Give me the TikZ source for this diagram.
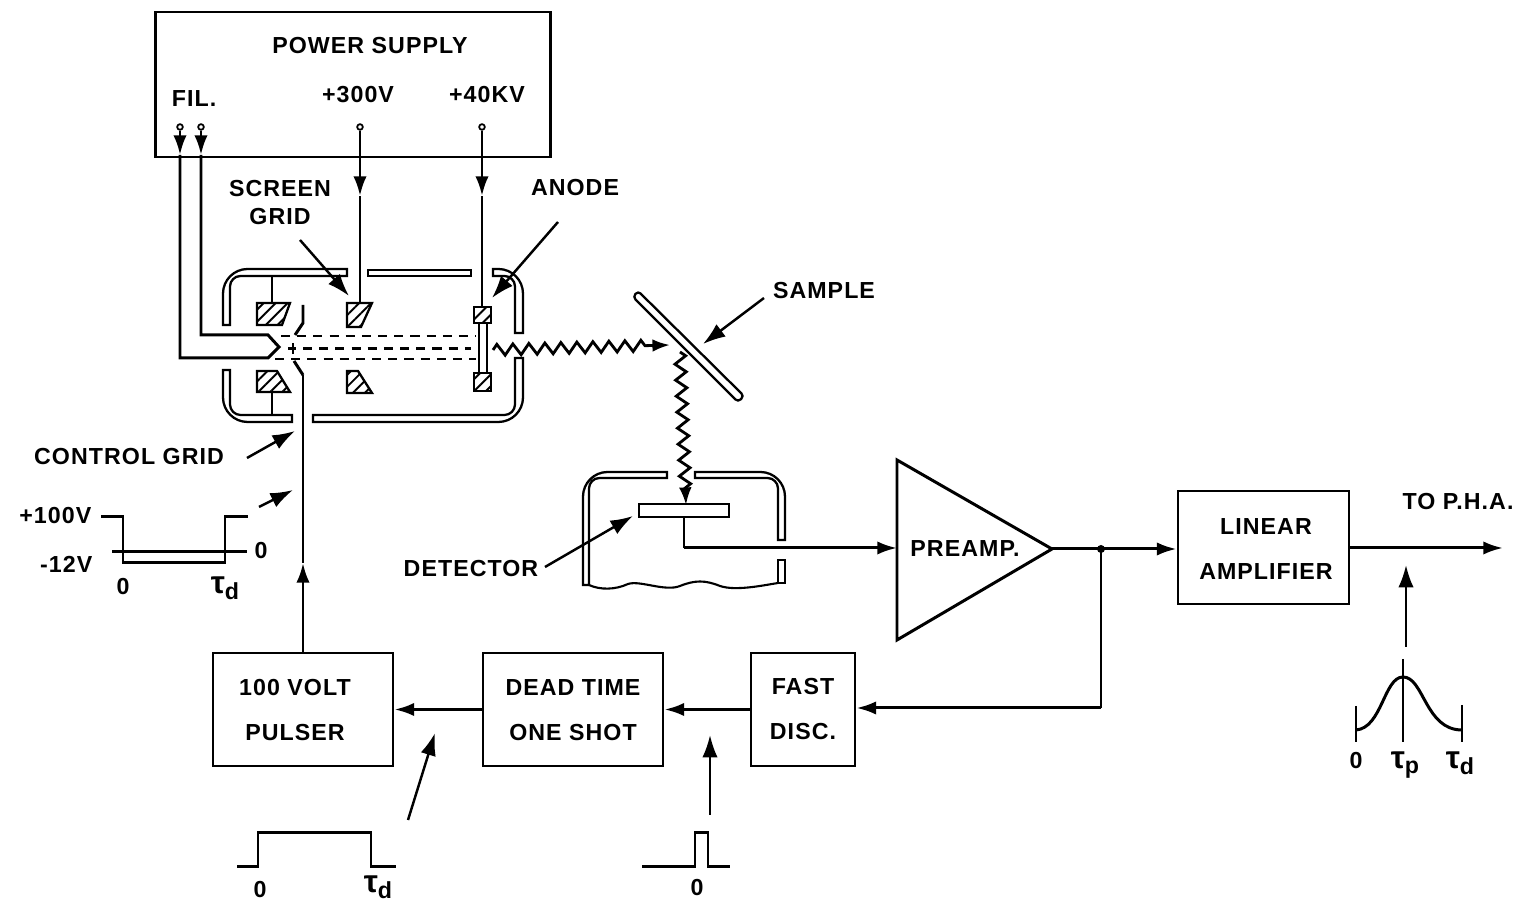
\documentclass[tikz,border=0pt]{standalone}
\usepackage{fontspec}
\setmainfont{Liberation Sans}[LetterSpace=4.5,BoldFeatures={LetterSpace=4.5}]
\usetikzlibrary{arrows.meta,patterns.meta,decorations.pathmorphing}
\newcommand{\taud}{{\fontsize{9}{9}\selectfont τ}\raisebox{-1.6pt}{d}}
\newcommand{\taup}{{\fontsize{9}{9}\selectfont τ}\raisebox{-1.6pt}{p}}
\tikzset{
  lbl/.style={font=\fontsize{6.6}{12.8}\selectfont\bfseries, align=center, inner sep=0pt},
  box/.style={draw, line width=0.8pt, lbl},
  sig/.style={line width=0.85pt, -{Latex[length=5.6pt,width=3.8pt]}},
  wire/.style={line width=0.85pt},
  thinline/.style={line width=0.6pt},
  point/.style={line width=0.7pt, -{Latex[length=6.4pt,width=4.4pt]}},
  wall/.style={line width=0.65pt, fill=white},
  grid/.style={line width=0.65pt, pattern={Lines[angle=45,distance=2.4pt,line width=0.55pt]}},
  beam/.style={line width=0.65pt, dash pattern=on 2.6pt off 2pt},
  terminal/.style={circle, draw, fill=white, line width=0.5pt, inner sep=0pt, minimum size=1.6pt},
  wavy/.style={line width=0.8pt, decorate, decoration={zigzag, segment length=0.16cm, amplitude=0.055cm}},
}
\begin{document}
\begin{tikzpicture}[x=0.01cm, y=-0.01cm]
\useasboundingbox (0,0) rectangle (1523,901);

% boxes
\node[box, minimum width=3.94cm, minimum height=1.45cm] (supply) at (353,84.5) {};
\node[box, minimum width=1.80cm, minimum height=1.13cm] (pulser) at (303,709.5) {};
\node[box, minimum width=1.80cm, minimum height=1.13cm] (oneshot) at (573,709.5) {};
\node[box, minimum width=1.04cm, minimum height=1.13cm] (disc) at (803,709.5) {};
\node[box, minimum width=1.71cm, minimum height=1.13cm] (linamp) at (1263.5,547.5) {};
\node[lbl] (pulsertxt) at (295,710) {100 VOLT\\PULSER};
\node[lbl] (oneshottxt) at (573,710) {DEAD TIME\\ONE SHOT};
\node[lbl] (disctxt) at (803,709) {FAST\\DISC.};
\node[lbl] (linamptxt) at (1266,549) {LINEAR\\AMPLIFIER};

% power supply
\node[lbl] (supplytxt) at (370,46) {POWER SUPPLY};
\node[lbl] (filtxt) at (194,99) {FIL.};
\node[lbl] (screentxt) at (358,95) {+300V};
\node[lbl] (anodetxt) at (487,95) {+40KV};
\node[terminal] (fila) at (180,127) {};
\node[terminal] (filb) at (201,127) {};
\node[terminal] (scr) at (360,127) {};
\node[terminal] (ano) at (482,127) {};

% filament
\coordinate (filam) at (180,155);
\coordinate (filbm) at (201,155);
\coordinate (scrm) at (360,196);
\coordinate (anom) at (482,196);
\coordinate (scrtop) at (360,303);
\coordinate (anotop) at (482,307);
\draw[sig] (fila) -- (filam);
\draw[sig] (filb) -- (filbm);
\draw[sig] (scr) -- (scrm);
\draw[sig] (ano) -- (anom);
\draw[wire] (scrm) -- (scrtop);
\draw[wire] (anom) -- (anotop);
\draw[wire] (filam) -- (180,358) -- (268,358) -- (279,347) -- (268,335) -- (201,335) -- (filbm);

% tube wall
\draw[wall] (223,325) [rounded corners=7] -- (223,269) [sharp corners] -- (347,269) -- (347,276) [rounded corners=3] -- (230,276) [sharp corners] -- (230,325) -- cycle;
\draw[wall] (368,270) rectangle (471,276);
\draw[wall] (493,269) [rounded corners=7] -- (523,269) [sharp corners] -- (523,333) -- (515,333) [rounded corners=3] -- (515,276) [sharp corners] -- (493,276) -- cycle;
\draw[wall] (223,370) [rounded corners=7] -- (223,422) [sharp corners] -- (292,422) -- (292,415) [rounded corners=3] -- (230,415) [sharp corners] -- (230,370) -- cycle;
\draw[wall] (313,415) [rounded corners=3] -- (515,415) [sharp corners] -- (515,358) -- (523,358) [rounded corners=7] -- (523,422) [sharp corners] -- (313,422) -- cycle;

% tube electrodes
\draw[grid] (257,303) -- (290,303) -- (282,325) -- (257,325) -- cycle;
\draw[grid] (347,303) -- (372,303) -- (361,327) -- (347,327) -- cycle;
\draw[grid] (257,371) -- (277,371) -- (290,392) -- (257,392) -- cycle;
\draw[grid] (347,371) -- (358,371) -- (372,393) -- (347,393) -- cycle;
\draw[grid] (474,307) rectangle (491,323);
\draw[grid] (474,373) rectangle (491,391);
\draw[wall] (479,323) rectangle (487,373);
\draw[thinline] (272,276) -- (272,303);
\draw[thinline] (272,392) -- (272,415);

% electron beam
\draw[beam] (281,336) -- (476,336);
\draw[beam] (303,348.5) -- (471,348.5);
\draw[beam] (275,359) -- (476,359);
\draw[wire] (288,348.5) -- (296,348.5);
\draw[wire] (293,343) -- (293,354);

% control grid
\coordinate (gridtop) at (303,305);
\coordinate (gridlow) at (303,375);
\coordinate (gridmark) at (303,563);
\draw[wire] (gridtop) -- (303,323) -- (295,335);
\draw[wire] (294,361) -- (gridlow);
\draw[wire] (gridlow) -- (gridmark);
\draw[sig] (pulser.north) -- (gridmark);

% x rays
\coordinate (xraya) at (493,350);
\coordinate (xrayb) at (670,345);
\coordinate (xrayc) at (680,352);
\coordinate (xrayd) at (686,505);
\draw[wavy, decoration={post=lineto, post length=0.2cm}, -{Latex[length=5pt,width=3.6pt]}] (xraya) -- (xrayb);
\draw[wavy, decoration={post=lineto, post length=0.12cm}, -{Latex[length=5pt,width=3.6pt]}] (xrayc) -- (xrayd);

% sample
\draw[wall, rounded corners=1] (633,297) -- (638,291) -- (744,396) -- (738,402) -- cycle;

% detector
\draw[wall] (583,585) [rounded corners=7] -- (583,472) [sharp corners] -- (667,472) -- (667,478) [rounded corners=3] -- (589,478) [sharp corners] -- (589,585) -- cycle;
\draw[wall] (695,472) [rounded corners=7] -- (785,472) [sharp corners] -- (785,540) -- (778,540) [rounded corners=3] -- (778,478) [sharp corners] -- (695,478) -- cycle;
\draw[wall] (778,560) rectangle (785,583);
\draw[thinline] (589,585) .. controls (600,590) and (615,590) .. (628,584) .. controls (640,580) and (665,592) .. (680,586) .. controls (695,580) and (705,580) .. (720,586) .. controls (735,591) and (760,586) .. (778,583);
\node[draw, line width=0.8pt, fill=white, minimum width=0.90cm, minimum height=0.13cm, inner sep=0pt] (plate) at (684,510.5) {};
\coordinate (platein) at (684,548);

% preamp
\coordinate (preampa) at (897,460);
\coordinate (preampb) at (897,640);
\coordinate (preampc) at (1052,549);
\coordinate (preampin) at (897,548);
\draw[wire] (preampa) -- (preampc) -- (preampb) -- cycle;
\node[lbl] (preamptxt) at (965,549) {PREAMP.};
\draw[wire] (plate.south) -- (platein);
\draw[sig] (platein) -- (preampin);

% signal path
\coordinate (branch) at (1101,549);
\coordinate (branchlow) at (1101,708);
\coordinate (pha) at (1503,548);
\fill (branch) circle (4);
\draw[sig] (preampc) -- (linamp.west |- preampc);
\draw[wire] (branch) -- (branchlow);
\draw[sig] (branchlow) -- (disc.east |- branchlow);
\draw[sig] (disc.west) -- (oneshot.east);
\draw[sig] (oneshot.west) -- (pulser.east);
\draw[sig] (linamp.east |- pha) -- (pha);
\node[lbl] (phatxt) at (1458,502) {TO P.H.A.};

% labels with pointers
\node[lbl] (screenlbl) at (280,189) {SCREEN};
\node[lbl] (screenlblb) at (280,217) {GRID};
\node[lbl] (anodelbl) at (575,188) {ANODE};
\node[lbl] (samplelbl) at (824,291) {SAMPLE};
\node[lbl] (ctrllbl) at (129,457) {CONTROL GRID};
\node[lbl] (detlbl) at (471,569) {DETECTOR};
\coordinate (screenfrom) at (300,240);
\coordinate (screento) at (349,296);
\coordinate (anodefrom) at (558,222);
\coordinate (anodeto) at (492,298);
\coordinate (samplefrom) at (764,298);
\coordinate (sampleto) at (703,344);
\coordinate (ctrlfrom) at (247,458);
\coordinate (ctrlto) at (295,431);
\coordinate (detfrom) at (545,567);
\coordinate (detto) at (633,516);
\draw[point] (screenfrom) -- (screento);
\draw[point] (anodefrom) -- (anodeto);
\draw[point] (samplefrom) -- (sampleto);
\draw[point] (ctrlfrom) -- (ctrlto);
\draw[point] (detfrom) -- (detto);

% grid pulse
\coordinate (gpfrom) at (259,507);
\coordinate (gpto) at (293,490);
\draw[point] (gpfrom) -- (gpto);
\draw[wire] (101,517) -- (123,517) -- (123,563) -- (225,563) -- (225,517) -- (248,517);
\draw[wire] (112,552) -- (247,552);
\node[lbl, anchor=east] (gphi) at (92,516) {+100V};
\node[lbl, anchor=east] (gplo) at (93,564) {-12V};
\node[lbl] (gpzero) at (261,551) {0};
\node[lbl] (gpt) at (123,587) {0};
\node[lbl] (gptd) at (225,588) {\taud};

% pulser pulse
\coordinate (ppfrom) at (408,820);
\coordinate (ppto) at (435,733);
\draw[point] (ppfrom) -- (ppto);
\draw[wire] (237,867) -- (258,867) -- (258,833) -- (371,833) -- (371,867) -- (396,867);
\node[lbl] (ppzero) at (260,890) {0};
\node[lbl] (pptd) at (378,887) {\taud};

% disc pulse
\coordinate (dpfrom) at (710,815);
\coordinate (dpto) at (710,735);
\draw[point] (dpfrom) -- (dpto);
\draw[wire] (642,867) -- (695,867) -- (695,833) -- (708,833) -- (708,867) -- (730,867);
\node[lbl] (dpzero) at (697,888) {0};

% amp pulse
\coordinate (apfrom) at (1406,647);
\coordinate (apto) at (1406,565);
\draw[point] (apfrom) -- (apto);
\draw[thinline] (1356,706) -- (1356,742);
\draw[thinline] (1462,705) -- (1462,742);
\draw[thinline] (1403,659) -- (1403,742);
\draw[wire] (1356,730) .. controls (1382,728) and (1384,677) .. (1403,677) .. controls (1424,677) and (1425,730) .. (1462,730);
\node[lbl] (apzero) at (1356,761) {0};
\node[lbl] (aptp) at (1405,765) {\taup};
\node[lbl] (aptd) at (1460,763) {\taud};

\end{tikzpicture}
\end{document}
